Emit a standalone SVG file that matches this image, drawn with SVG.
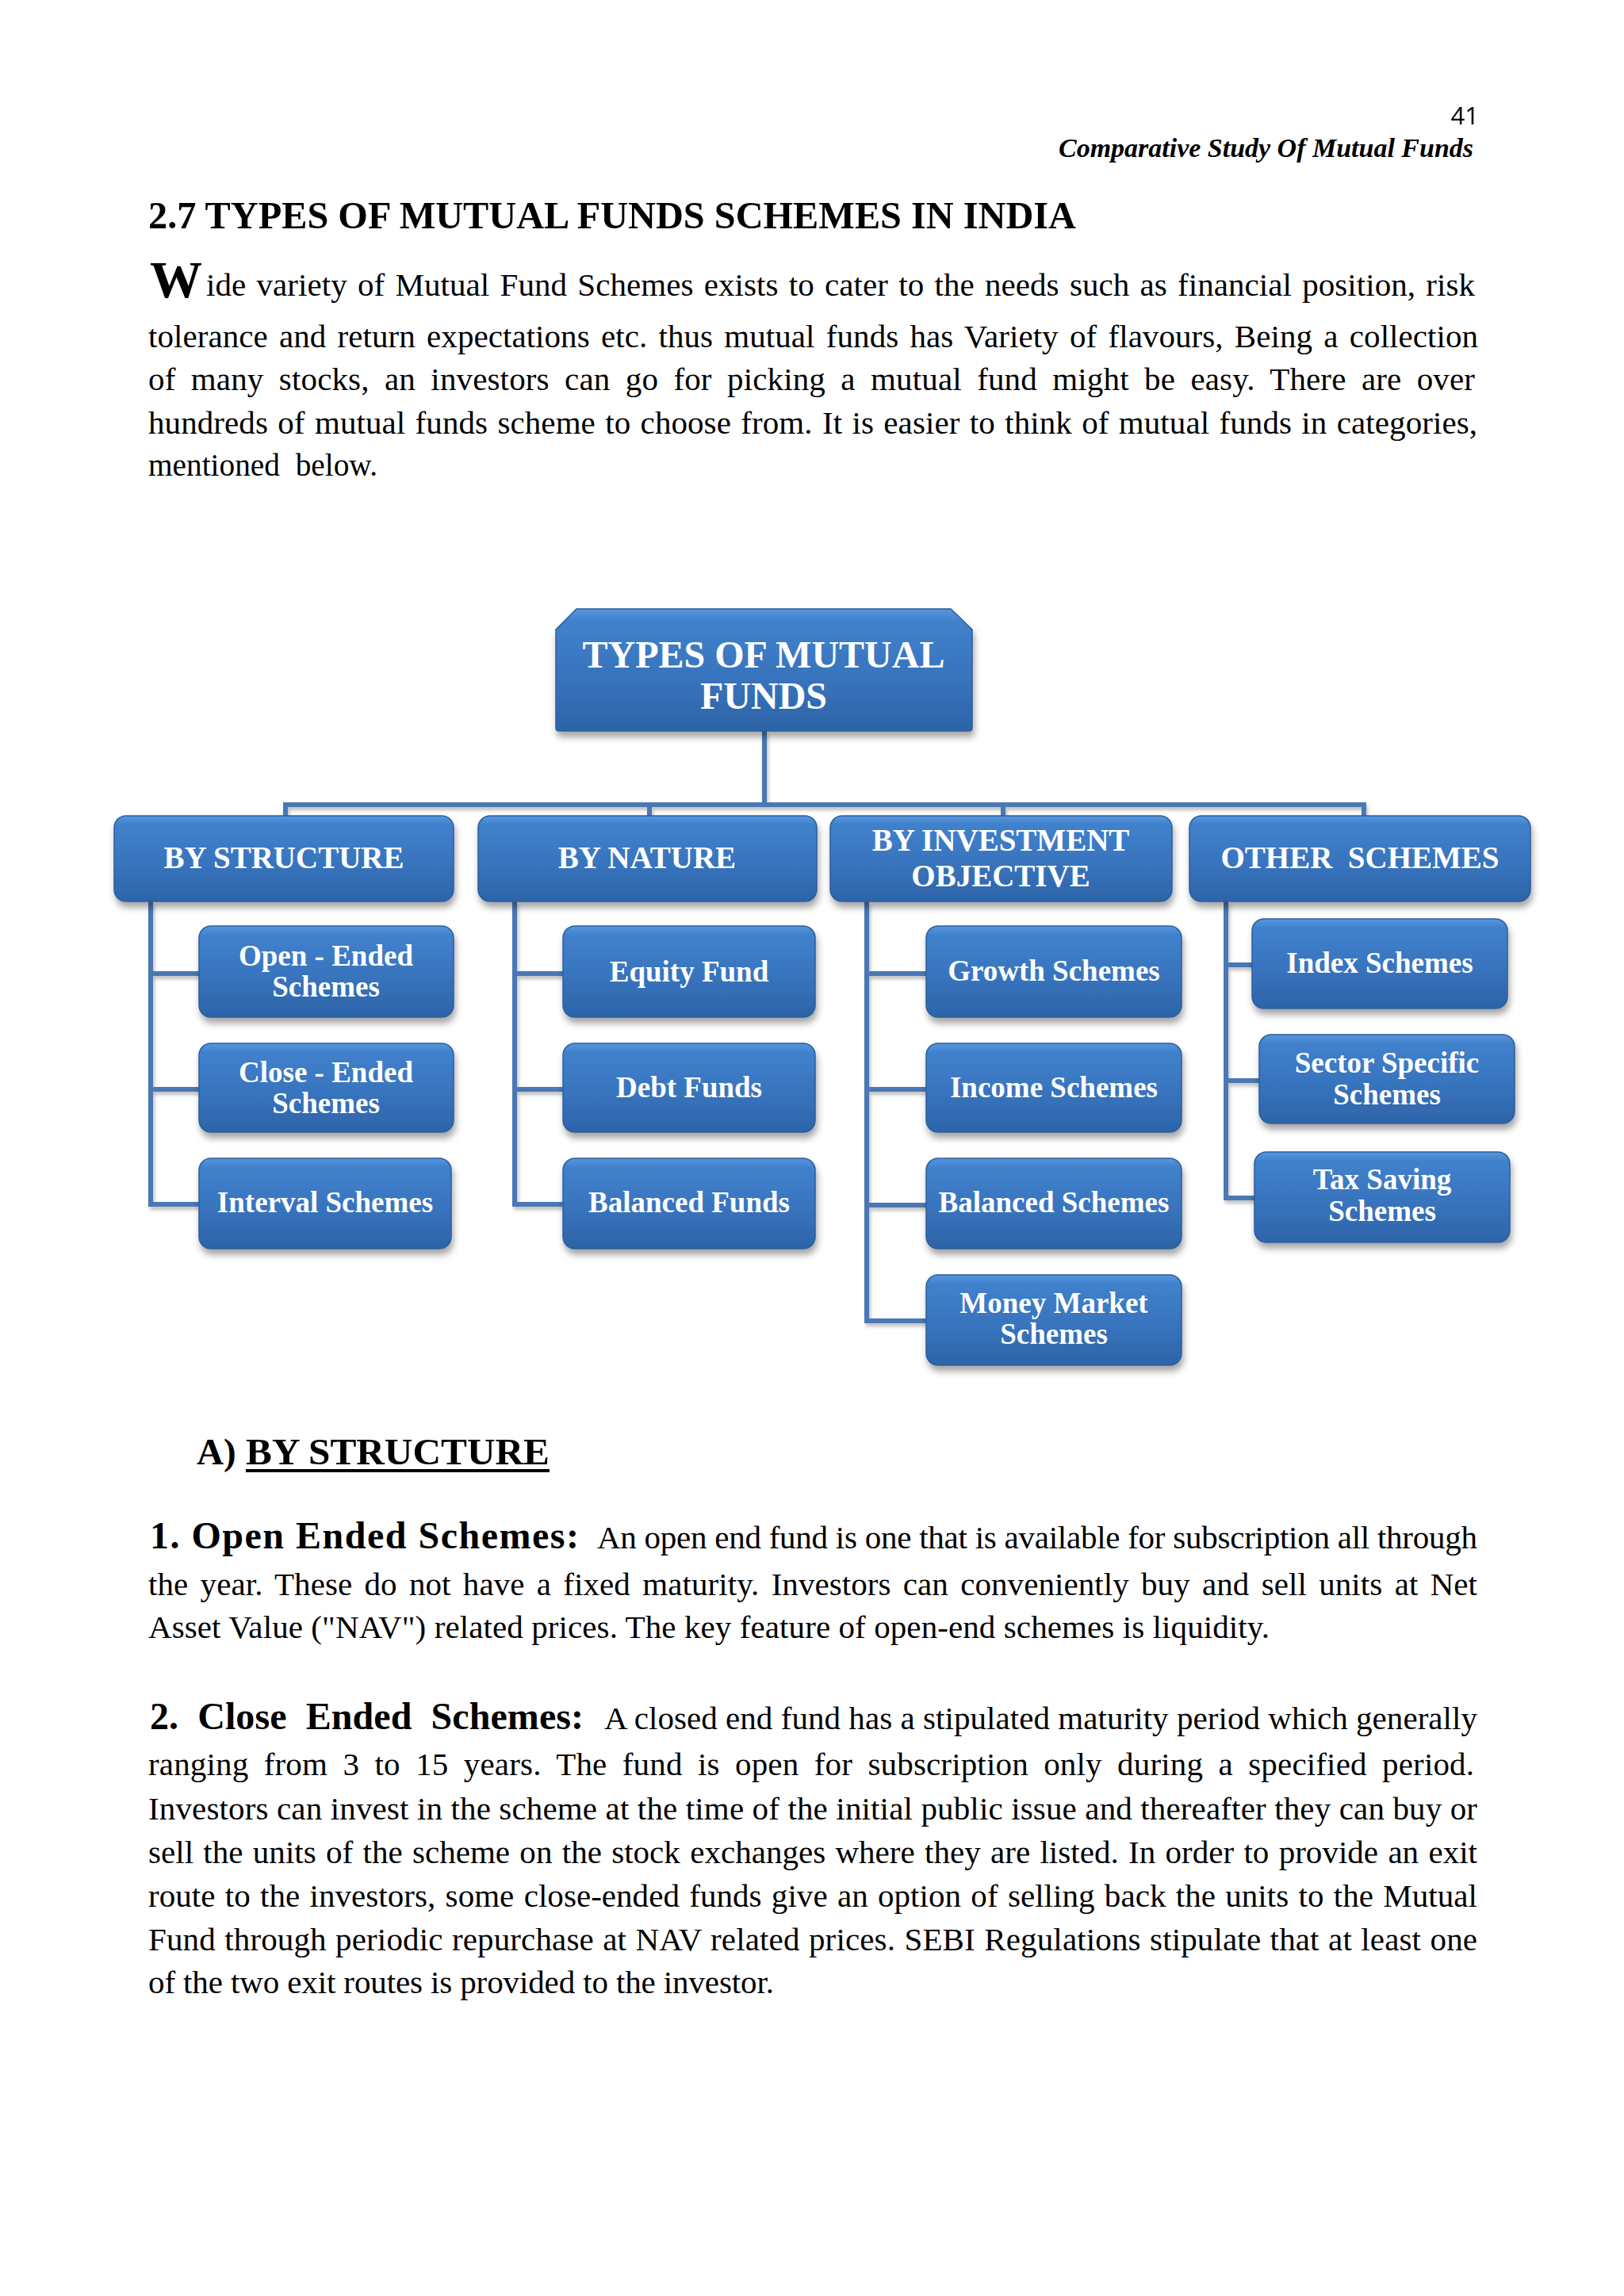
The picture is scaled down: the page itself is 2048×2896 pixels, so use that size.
<svg xmlns="http://www.w3.org/2000/svg" width="2048" height="2896" viewBox="0 0 2048 2896">
<defs>
<linearGradient id="boxg" x1="0" y1="0" x2="0" y2="1">
<stop offset="0" stop-color="#5897de"/>
<stop offset="0.1" stop-color="#4181cc"/>
<stop offset="0.55" stop-color="#3874be"/>
<stop offset="1" stop-color="#2d64a8"/>
</linearGradient>
<filter id="sh" x="-10%" y="-10%" width="120%" height="140%">
<feDropShadow dx="2" dy="7" stdDeviation="4" flood-color="#000" flood-opacity="0.35"/>
</filter>
<filter id="lsh" x="-5%" y="-5%" width="110%" height="110%">
<feDropShadow dx="2" dy="4" stdDeviation="2" flood-color="#000" flood-opacity="0.25"/>
</filter>
</defs>
<style>
.body{font-family:"Liberation Serif","Times New Roman",serif;font-size:41px;fill:#000}
.bold{font-weight:bold}
.node rect,.node path{fill:url(#boxg);stroke:#2b5e9e;stroke-width:1.5;filter:url(#sh)}
.node text{font-family:"Liberation Serif","Times New Roman",serif;font-weight:bold;fill:#fff;text-anchor:middle}
.l1 text{font-size:48px}
.l2 text{font-size:39px}
.l3 text{font-size:37px}
.conn path{fill:none;stroke:#4878b4;stroke-width:6;filter:url(#lsh)}
</style>
<rect x="0" y="0" width="2048" height="2896" fill="#fff"/>

<!-- header -->
<text x="1865" y="157" text-anchor="end" font-family="'Open Sans','Liberation Sans',sans-serif" font-size="31" fill="#000">41</text>
<text x="1858" y="198" text-anchor="end" font-family="'Liberation Serif','Times New Roman',serif" font-size="34" font-weight="bold" font-style="italic" textLength="523" lengthAdjust="spacingAndGlyphs">Comparative Study Of Mutual Funds</text>

<text x="187" y="288" class="body bold" style="font-size:48px" textLength="1170" lengthAdjust="spacingAndGlyphs">2.7 TYPES OF MUTUAL FUNDS SCHEMES IN INDIA</text>

<!-- intro paragraph -->
<text x="189" y="375" class="body bold" style="font-size:66px">W</text>
<text x="260" y="373" class="body" word-spacing="3" textLength="1600" lengthAdjust="spacing">ide variety of Mutual Fund Schemes exists to cater to the needs such as financial position, risk</text>
<text x="187" y="438" class="body" word-spacing="4" textLength="1677" lengthAdjust="spacing">tolerance and return expectations etc. thus mutual funds has Variety of flavours, Being a collection</text>
<text x="187" y="492" class="body" word-spacing="9" textLength="1673" lengthAdjust="spacing">of many stocks, an investors can go for picking a mutual fund might be easy. There are over</text>
<text x="187" y="547" class="body" word-spacing="2" textLength="1676" lengthAdjust="spacing">hundreds of mutual funds scheme to choose from. It is easier to think of mutual funds in categories,</text>
<text x="187" y="600" class="body" xml:space="preserve" textLength="289" lengthAdjust="spacingAndGlyphs">mentioned  below.</text>

<!-- connectors -->
<g id="connectors" class="conn">
<path d="M964,922 V1015 M360,1031 V1015 H1720 V1031 M819,1015 V1031 M1265,1015 V1031"/>
<path d="M190,1137 V1519 H251 M190,1228 H251 M190,1374 H251"/>
<path d="M649,1137 V1519 H710 M649,1228 H710 M649,1374 H710"/>
<path d="M1093,1137 V1666 H1168 M1093,1228 H1168 M1093,1374 H1168 M1093,1520 H1168"/>
<path d="M1546,1137 V1511 H1582 M1546,1217 H1579 M1546,1363 H1588"/>
</g>

<!-- root -->
<g id="root" class="node l1">
<path d="M701,794 L727,768 L1199,768 L1226,794 L1226,918 Q1226,922 1222,922 L705,922 Q701,922 701,918 Z"/>
<text x="963" y="842">TYPES OF MUTUAL</text>
<text x="963" y="894">FUNDS</text>
</g>

<!-- level 2 -->
<g id="by-structure" class="node l2">
<rect x="144" y="1029" width="428" height="108" rx="15"/>
<text x="358" y="1095">BY STRUCTURE</text>
</g>
<g id="by-nature" class="node l2">
<rect x="603" y="1029" width="427" height="108" rx="15"/>
<text x="816" y="1095">BY NATURE</text>
</g>
<g id="by-investment-objective" class="node l2">
<rect x="1047" y="1029" width="431" height="108" rx="15"/>
<text x="1262" y="1073">BY INVESTMENT</text>
<text x="1262" y="1118">OBJECTIVE</text>
</g>
<g id="other-schemes" class="node l2">
<rect x="1500" y="1029" width="430" height="108" rx="15"/>
<text x="1715" y="1095" xml:space="preserve">OTHER  SCHEMES</text>
</g>

<!-- level 3: structure -->
<g id="open-ended" class="node l3">
<rect x="251" y="1168" width="321" height="115" rx="15"/>
<text x="411" y="1218">Open - Ended</text>
<text x="411" y="1257">Schemes</text>
</g>
<g id="close-ended" class="node l3">
<rect x="251" y="1316" width="321" height="112" rx="15"/>
<text x="411" y="1365">Close - Ended</text>
<text x="411" y="1404">Schemes</text>
</g>
<g id="interval" class="node l3">
<rect x="251" y="1461" width="318" height="114" rx="15"/>
<text x="410" y="1529">Interval Schemes</text>
</g>

<!-- level 3: nature -->
<g id="equity" class="node l3">
<rect x="710" y="1168" width="318" height="115" rx="15"/>
<text x="869" y="1238">Equity Fund</text>
</g>
<g id="debt" class="node l3">
<rect x="710" y="1316" width="318" height="112" rx="15"/>
<text x="869" y="1384">Debt Funds</text>
</g>
<g id="balanced-funds" class="node l3">
<rect x="710" y="1461" width="318" height="114" rx="15"/>
<text x="869" y="1529">Balanced Funds</text>
</g>

<!-- level 3: investment objective -->
<g id="growth" class="node l3">
<rect x="1168" y="1168" width="322" height="115" rx="15"/>
<text x="1329" y="1237">Growth Schemes</text>
</g>
<g id="income" class="node l3">
<rect x="1168" y="1316" width="322" height="112" rx="15"/>
<text x="1329" y="1384">Income Schemes</text>
</g>
<g id="balanced-schemes" class="node l3">
<rect x="1168" y="1461" width="322" height="114" rx="15"/>
<text x="1329" y="1529">Balanced Schemes</text>
</g>
<g id="money-market" class="node l3">
<rect x="1168" y="1608" width="322" height="114" rx="15"/>
<text x="1329" y="1656">Money Market</text>
<text x="1329" y="1695">Schemes</text>
</g>

<!-- level 3: other -->
<g id="index" class="node l3">
<rect x="1579" y="1159" width="322" height="113" rx="15"/>
<text x="1740" y="1227">Index Schemes</text>
</g>
<g id="sector" class="node l3">
<rect x="1588" y="1305" width="322" height="112" rx="15"/>
<text x="1749" y="1353">Sector Specific</text>
<text x="1749" y="1393">Schemes</text>
</g>
<g id="tax-saving" class="node l3">
<rect x="1582" y="1453" width="322" height="114" rx="15"/>
<text x="1743" y="1500">Tax Saving</text>
<text x="1743" y="1540">Schemes</text>
</g>

<!-- section A -->
<text x="248" y="1847" class="body bold" style="font-size:47px">A)</text>
<text x="310" y="1847" class="body bold" style="font-size:47px" textLength="383" lengthAdjust="spacingAndGlyphs">BY STRUCTURE</text>
<rect x="310" y="1853" width="383" height="4" fill="#000"/>

<text x="189" y="1953" class="body bold" style="font-size:48px" textLength="541" lengthAdjust="spacing">1. Open Ended Schemes:</text>
<text x="753" y="1953" class="body" textLength="1110" lengthAdjust="spacing">An open end fund is one that is available for subscription all through</text>
<text x="187" y="2012" class="body" word-spacing="5" textLength="1676" lengthAdjust="spacing">the year. These do not have a fixed maturity. Investors can conveniently buy and sell units at Net</text>
<text x="187" y="2066" class="body" textLength="1414" lengthAdjust="spacing">Asset Value ("NAV") related prices. The key feature of open-end schemes is liquidity.</text>

<text x="189" y="2181" class="body bold" style="font-size:48px" word-spacing="12" textLength="547" lengthAdjust="spacing">2. Close Ended Schemes:</text>
<text x="762" y="2181" class="body" textLength="1101" lengthAdjust="spacing">A closed end fund has a stipulated maturity period which generally</text>
<text x="187" y="2239" class="body" word-spacing="9" textLength="1672" lengthAdjust="spacing">ranging from 3 to 15 years. The fund is open for subscription only during a specified period.</text>
<text x="187" y="2295" class="body" textLength="1676" lengthAdjust="spacing">Investors can invest in the scheme at the time of the initial public issue and thereafter they can buy or</text>
<text x="187" y="2350" class="body" word-spacing="2" textLength="1676" lengthAdjust="spacing">sell the units of the scheme on the stock exchanges where they are listed. In order to provide an exit</text>
<text x="187" y="2405" class="body" word-spacing="2" textLength="1676" lengthAdjust="spacing">route to the investors, some close-ended funds give an option of selling back the units to the Mutual</text>
<text x="187" y="2460" class="body" word-spacing="1" textLength="1676" lengthAdjust="spacing">Fund through periodic repurchase at NAV related prices. SEBI Regulations stipulate that at least one</text>
<text x="187" y="2514" class="body" textLength="789" lengthAdjust="spacing">of the two exit routes is provided to the investor.</text>
</svg>
